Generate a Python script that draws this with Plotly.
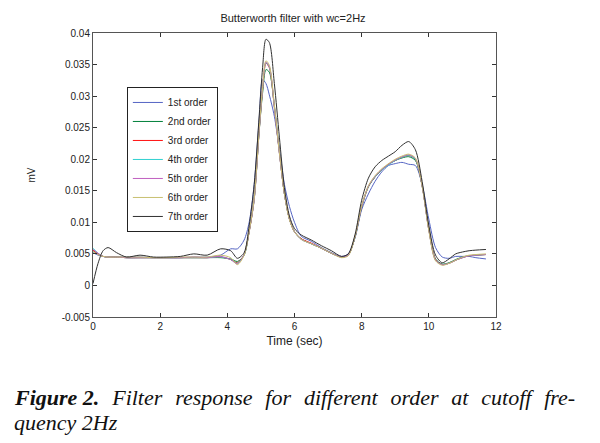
import plotly.graph_objects as go

# Time samples (sec)
time_s = [0, 0.15, 0.3, 0.45, 0.7, 1.0, 1.4, 1.8, 2.2, 2.6, 3.0, 3.4, 3.8, 4.1, 4.3, 4.5,
          4.65, 4.8, 4.95, 5.05, 5.15, 5.25, 5.4, 5.55, 5.7, 5.85, 6.0, 6.2, 6.5, 6.8,
          7.1, 7.4, 7.6, 7.8, 8.0, 8.2, 8.4, 8.6, 8.8, 9.0, 9.2, 9.4, 9.6, 9.8, 10.0,
          10.2, 10.4, 10.6, 10.8, 11.0, 11.2, 11.4, 11.7]

order1 = [0.0052, 0.0048, 0.0046, 0.0045, 0.0045, 0.0045, 0.0045, 0.0044, 0.0044, 0.0044,
          0.0045, 0.0045, 0.0048, 0.0058, 0.0058, 0.0072, 0.0100, 0.0160, 0.0265, 0.0326,
          0.0320, 0.0302, 0.0268, 0.0215, 0.0160, 0.0125, 0.0100, 0.0078, 0.0070, 0.0060,
          0.0052, 0.0046, 0.0050, 0.0075, 0.0120, 0.0145, 0.0165, 0.0180, 0.0190, 0.0193,
          0.0195, 0.0192, 0.0190, 0.0160, 0.0105, 0.0060, 0.0045, 0.0043, 0.0046, 0.0046,
          0.0046, 0.0044, 0.0042]
order2 = [0.0055, 0.0050, 0.0046, 0.0045, 0.0045, 0.0044, 0.0044, 0.0044, 0.0044, 0.0044,
          0.0044, 0.0044, 0.0044, 0.0042, 0.0038, 0.0048, 0.0085, 0.0138, 0.0245, 0.0305,
          0.0342, 0.0338, 0.0285, 0.0212, 0.0145, 0.0105, 0.0085, 0.0074, 0.0066, 0.0059,
          0.0051, 0.0045, 0.0048, 0.0076, 0.0124, 0.0156, 0.0172, 0.0183, 0.0192, 0.0198,
          0.0202, 0.0204, 0.0198, 0.0158, 0.0090, 0.0042, 0.0034, 0.0036, 0.0041, 0.0045,
          0.0047, 0.0048, 0.0049]
order3 = [0.0056, 0.0050, 0.0046, 0.0045, 0.0045, 0.0044, 0.0044, 0.0044, 0.0044, 0.0044,
          0.0044, 0.0044, 0.0045, 0.0041, 0.0036, 0.0049, 0.0085, 0.0136, 0.0246, 0.0310,
          0.0352, 0.0345, 0.0282, 0.0210, 0.0145, 0.0105, 0.0085, 0.0074, 0.0067, 0.0059,
          0.0051, 0.0045, 0.0048, 0.0077, 0.0125, 0.0157, 0.0172, 0.0183, 0.0192, 0.0198,
          0.0203, 0.0206, 0.0200, 0.0158, 0.0088, 0.0041, 0.0033, 0.0035, 0.0040, 0.0044,
          0.0047, 0.0048, 0.0049]
order4 = [0.0059, 0.0051, 0.0046, 0.0045, 0.0045, 0.0044, 0.0044, 0.0044, 0.0044, 0.0044,
          0.0044, 0.0044, 0.0045, 0.0041, 0.0035, 0.0049, 0.0086, 0.0136, 0.0247, 0.0311,
          0.0353, 0.0346, 0.0283, 0.0210, 0.0145, 0.0105, 0.0085, 0.0073, 0.0066, 0.0059,
          0.0051, 0.0045, 0.0048, 0.0077, 0.0125, 0.0157, 0.0172, 0.0183, 0.0191, 0.0198,
          0.0203, 0.0206, 0.0200, 0.0158, 0.0088, 0.0040, 0.0033, 0.0035, 0.0040, 0.0044,
          0.0047, 0.0048, 0.0049]
order5 = [0.0057, 0.0051, 0.0046, 0.0045, 0.0045, 0.0044, 0.0044, 0.0044, 0.0044, 0.0044,
          0.0045, 0.0044, 0.0046, 0.0041, 0.0034, 0.0049, 0.0086, 0.0137, 0.0248, 0.0312,
          0.0354, 0.0347, 0.0284, 0.0210, 0.0145, 0.0105, 0.0085, 0.0073, 0.0066, 0.0059,
          0.0051, 0.0045, 0.0048, 0.0077, 0.0125, 0.0157, 0.0173, 0.0184, 0.0192, 0.0199,
          0.0204, 0.0207, 0.0201, 0.0158, 0.0088, 0.0040, 0.0033, 0.0035, 0.0040, 0.0044,
          0.0047, 0.0048, 0.0049]
order6 = [0.0054, 0.0049, 0.0046, 0.0045, 0.0045, 0.0045, 0.0045, 0.0044, 0.0044, 0.0045,
          0.0045, 0.0045, 0.0048, 0.0044, 0.0033, 0.0048, 0.0086, 0.0138, 0.0250, 0.0314,
          0.0356, 0.0349, 0.0286, 0.0211, 0.0145, 0.0104, 0.0085, 0.0073, 0.0066, 0.0059,
          0.0051, 0.0044, 0.0047, 0.0077, 0.0126, 0.0158, 0.0174, 0.0185, 0.0193, 0.0200,
          0.0205, 0.0208, 0.0202, 0.0158, 0.0087, 0.0039, 0.0032, 0.0035, 0.0040, 0.0045,
          0.0048, 0.0049, 0.0050]
order7 = [0.0003, 0.0035, 0.0055, 0.0060, 0.0052, 0.0045, 0.0048, 0.0045, 0.0045, 0.0046,
          0.0050, 0.0048, 0.0058, 0.0055, 0.0043, 0.0052, 0.0095, 0.0160, 0.0270, 0.0345,
          0.0390, 0.0385, 0.0320, 0.0235, 0.0155, 0.0110, 0.0090, 0.0080, 0.0072, 0.0063,
          0.0055, 0.0046, 0.0050, 0.0080, 0.0135, 0.0170, 0.0188, 0.0198, 0.0205, 0.0212,
          0.0222, 0.0228, 0.0215, 0.0165, 0.0095, 0.0048, 0.0036, 0.0042, 0.0050, 0.0053,
          0.0055, 0.0056, 0.0057]

series_names = ["1st order", "2nd order", "3rd order", "4th order",
                "5th order", "6th order", "7th order"]
series_values = [order1, order2, order3, order4, order5, order6, order7]
series_colors = ["#5565c4", "#00803a", "#ff1010", "#30d0d0", "#c060c0", "#c8c070", "#303030"]

y_tick_vals = [-0.005, 0, 0.005, 0.01, 0.015, 0.02, 0.025, 0.03, 0.035, 0.04]
y_tick_text = ["-0.005", "0", "0.005", "0.01", "0.015", "0.02", "0.025", "0.03", "0.035", "0.04"]
x_tick_vals = [0, 2, 4, 6, 8, 10, 12]

caption_line1_bold = "Figure 2."
caption_line1_words = ["Filter", "response", "for", "different", "order", "at", "cutoff", "fre-"]
caption_line2 = "quency 2Hz"

fig = go.Figure()
for name, vals, col in zip(series_names, series_values, series_colors):
    fig.add_trace(go.Scatter(x=time_s, y=vals, mode="lines", name=name,
                             line=dict(color=col, width=1, shape="spline", smoothing=0.8)))

axis_common = dict(showline=True, linecolor="#555555", linewidth=1, mirror="ticks",
                   ticks="inside", ticklen=4, tickcolor="#333333", showgrid=False,
                   zeroline=False, tickfont=dict(family="Liberation Sans", size=10, color="#222222"))

fig.update_xaxes(range=[0, 12], tickvals=x_tick_vals, **axis_common,
                 title=dict(text="Time (sec)", font=dict(family="Liberation Sans", size=12, color="#222222"), standoff=5))
fig.update_yaxes(range=[-0.005, 0.04], tickvals=y_tick_vals, ticktext=y_tick_text, **axis_common,
                 title=dict(text="mV", font=dict(family="Liberation Sans", size=10, color="#222222"), standoff=24))

fig.update_layout(
    width=600, height=443,
    margin=dict(l=85, r=112, t=25, b=134),
    paper_bgcolor="white", plot_bgcolor="white",
    title=dict(text="Butterworth filter with wc=2Hz", x=0.475, xanchor="center", y=0.977, yanchor="middle",
               font=dict(family="Liberation Sans", size=11, color="#222222")),
    legend=dict(x=0.084, y=0.81, xanchor="left", yanchor="top", bgcolor="white",
                bordercolor="#222222", borderwidth=1,
                font=dict(family="Liberation Sans", size=10, color="#222222")),
    showlegend=True,
)

gap = " \u2004"
cap_font = dict(family="Liberation Serif", size=22, color="#111111")
fig.add_annotation(xref="paper", yref="paper", x=-0.201, y=-0.282, xanchor="left", yanchor="middle",
                   showarrow=False, font=cap_font,
                   text="<b><i>" + caption_line1_bold + "</i></b><i>" + gap + gap.join(caption_line1_words) + "</i>")
fig.add_annotation(xref="paper", yref="paper", x=-0.201, y=-0.373, xanchor="left", yanchor="middle",
                   showarrow=False, font=cap_font,
                   text="<i>" + caption_line2 + "</i>")

fig.write_html("out.html")
